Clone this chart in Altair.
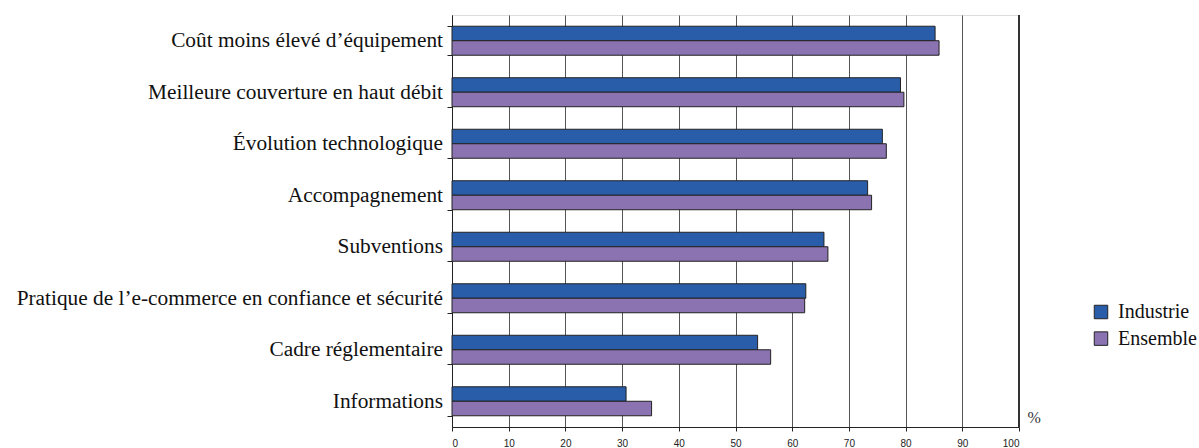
import altair as alt
import pandas as pd

# Categories, top to bottom
categories = [
    "Coût moins élevé d’équipement",
    "Meilleure couverture en haut débit",
    "Évolution technologique",
    "Accompagnement",
    "Subventions",
    "Pratique de l’e-commerce en confiance et sécurité",
    "Cadre réglementaire",
    "Informations",
]
series = ["Industrie", "Ensemble"]
industrie = [85.2, 79.1, 75.9, 73.3, 65.6, 62.4, 53.9, 30.7]
ensemble = [85.9, 79.7, 76.6, 74.0, 66.3, 62.2, 56.2, 35.2]
x_ticks = list(range(0, 101, 10))

rows = []
for cat, a, b in zip(categories, industrie, ensemble):
    rows.append({"Facteur": cat, "Série": "Industrie", "Valeur": a})
    rows.append({"Facteur": cat, "Série": "Ensemble", "Valeur": b})
df = pd.DataFrame(rows)

serif = "Liberation Serif, Times New Roman, serif"
x_scale = alt.Scale(domain=[0, 100], nice=False)

bars = alt.Chart(df).mark_bar(stroke="#222222", strokeWidth=1).encode(
    y=alt.Y(
        "Facteur:N",
        sort=categories,
        title=None,
        scale=alt.Scale(paddingInner=0.437, paddingOuter=0.218),
        axis=alt.Axis(
            tickBand="extent",
            tickSize=5,
            tickColor="#222222",
            domainColor="#222222",
            labelFont=serif,
            labelFontSize=21.33,
            labelColor="#111111",
            labelPadding=4.5,
            labelLimit=600,
            grid=False,
        ),
    ),
    yOffset=alt.YOffset("Série:N", sort=series, scale=alt.Scale(paddingInner=0, paddingOuter=0)),
    x=alt.X(
        "Valeur:Q",
        scale=x_scale,
        axis=alt.Axis(
            values=x_ticks,
            format="d",
            title="%",
            titleFont=serif,
            titleFontSize=16,
            titleFontWeight="normal",
            titleColor="#333333",
            titleAnchor="start",
            titleAlign="left",
            titleBaseline="middle",
            titleX=575,
            titleY=-10,
            labelFont="Liberation Sans",
            labelFontSize=10,
            labelColor="#222222",
            labelPadding=7,
            tickSize=4,
            tickColor="#222222",
            domainColor="#222222",
            grid=True,
            gridColor="#555555",
            gridWidth=1,
        ),
    ),
    color=alt.Color(
        "Série:N",
        sort=series,
        scale=alt.Scale(domain=series, range=["#2A5DA9", "#8A73B0"]),
        legend=alt.Legend(
            title=None,
            orient="none",
            legendX=639,
            legendY=287,
            symbolType="square",
            symbolSize=182,
            symbolStrokeColor="#222222",
            symbolStrokeWidth=1,
            labelFont=serif,
            labelFontSize=20,
            labelColor="#111111",
            rowPadding=6.6,
            labelOffset=7,
        ),
    ),
)

# Right-hand frame line of the plot, at 100 %
frame = alt.Chart(df).mark_rule(color="#333333", strokeWidth=2).encode(
    x=alt.datum(100, scale=x_scale)
)

chart = alt.layer(bars, frame).properties(
    width=567,
    height=412,
    autosize=alt.AutoSizeParams(type="none"),
    padding={"left": 452, "top": 15, "right": 180, "bottom": 21},
).configure_view(
    stroke="#888888",
    strokeWidth=1,
).configure(background="white")

chart.save("out.html", embed_options={"renderer": "svg", "actions": False})
